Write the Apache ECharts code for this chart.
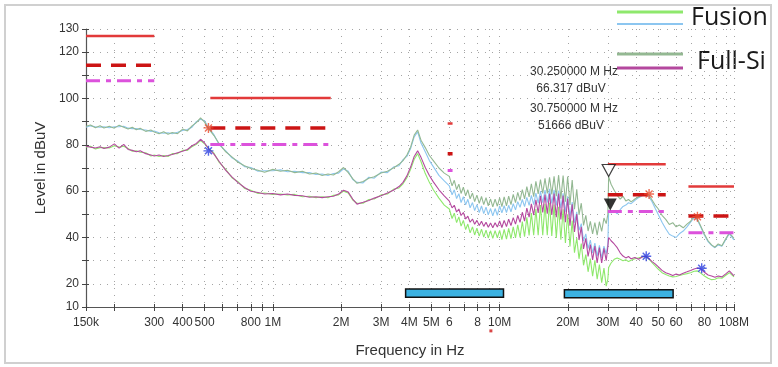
<!DOCTYPE html>
<html>
<head>
<meta charset="utf-8">
<script src="https://cdn.jsdelivr.net/npm/echarts@6/dist/echarts.min.js"></script>
<style>
html,body{margin:0;padding:0;background:#fff;}
#chart{width:778px;height:367px;}
</style>
</head>
<body>
<div id="chart"></div>
<script>
// ---------- DATA ----------
const freqMHz = [
  0.15,0.157,0.165,0.173,0.18,0.19,0.2,0.21,0.22,0.23,0.24,0.25,0.26,0.275,0.29,0.3,0.315,0.33,0.345,0.36,0.38,0.4,0.42,0.44,0.46,0.48,0.5,
  0.52,0.55,0.58,0.62,0.66,0.7,0.75,0.8,0.86,0.92,1.0,1.08,1.16,1.25,1.35,1.45,1.55,1.65,1.75,1.85,1.95,2.05,2.15,2.25,2.35,2.5,2.65,2.8,3.0,3.2,3.4,3.6,3.75,3.9,4.05,4.2,4.35,4.5,4.7,4.9,5.1,5.4,5.7,
  6.0,6.17,6.31,6.46,6.61,6.76,6.92,7.08,7.24,7.41,7.59,7.76,7.94,8.13,8.32,8.51,8.71,8.91,9.12,9.33,9.55,9.77,
  10.0,10.23,10.47,10.72,10.96,11.22,11.48,11.75,12.02,12.3,12.59,12.88,13.18,13.49,13.8,14.13,14.45,14.79,15.14,15.49,15.85,16.22,16.6,16.98,17.38,17.78,18.2,18.62,19.05,19.5,19.95,20.42,20.89,21.38,21.88,22.39,22.91,23.44,23.99,24.55,25.12,25.7,26.3,26.92,27.54,28.18,28.84,29.51,30.0,
  30.25,31,32,33,34,35,36,37,38,39.5,41,42.5,44,45.5,47,48.5,50,52,54,56,58,60,62,64.5,67,69.5,72,74.5,77,80,83,86,89,92,95.5,99,103,108
];
// Full-Si peak (grey-green)
const fullSiPeak = [
  88.0,88.6,87.4,88.2,87.3,88.0,87.2,88.5,87.6,86.8,87.6,86.5,87.2,85.8,86.4,85.5,84.8,85.6,84.6,85.3,84.8,86.8,86.0,88.2,89.6,91.6,89.8,
  87.0,84.0,80.5,77.0,74.8,72.6,71.0,69.8,69.0,68.2,69.4,68.6,69.0,68.0,68.6,67.4,67.8,66.8,67.4,67.0,68.4,70.2,68.0,65.4,63.4,64.2,65.6,66.2,67.8,68.6,70.0,71.6,73.2,75.6,79.0,84.2,86.4,82.0,78.8,75.4,73.2,70.0,67.8,
  66.4,62.3,64.7,60.7,63.0,59.0,61.7,58.0,60.6,56.7,59.2,55.5,58.3,54.7,57.7,54.2,57.2,53.7,56.6,53.2,56.6,53.5,
  57.1,53.3,57.5,53.7,57.9,54.2,58.6,55.1,59.5,56.0,60.7,56.7,62.0,57.5,63.2,57.6,64.2,58.8,65.0,59.0,65.5,59.0,66.0,58.6,66.4,57.8,66.9,56.8,66.7,55.4,66.3,54.1,64.8,52.2,60.8,49.8,54.8,45.2,49.6,42.8,47.0,41.6,46.4,41.0,46.8,42.6,48.4,46.0,50.0,
  66.3,63.0,60.4,58.2,56.6,57.8,55.8,56.4,55.4,56.6,57.6,58.4,59.0,58.4,56.2,54.0,52.4,49.6,47.8,45.6,46.4,44.6,45.4,44.2,45.8,47.0,49.2,48.0,45.0,41.4,38.6,36.8,35.8,37.2,36.4,39.2,42.0,39.6
];
// Fusion peak (light blue)
const fusionPeak = [
  87.6,88.2,87.8,87.6,87.8,87.4,87.8,87.8,88.0,87.2,87.0,87.0,86.6,86.4,85.8,86.0,85.2,85.0,85.2,84.8,85.4,86.2,86.6,87.6,90.0,91.0,90.4,
  87.4,84.4,80.0,77.4,74.4,73.0,70.6,70.2,68.6,68.8,68.8,69.2,68.4,68.6,68.0,68.0,67.2,67.4,66.8,67.6,67.8,69.6,68.6,65.0,63.8,63.6,66.0,65.6,68.2,68.0,70.4,71.0,73.6,75.0,78.4,83.4,85.6,80.8,77.0,73.2,70.6,66.8,64.4,
  62.3,58.4,60.6,56.8,58.9,55.1,57.6,54.1,56.5,52.8,55.1,51.6,54.2,50.8,53.6,50.3,53.1,49.8,52.5,49.3,52.5,49.6,
  53.6,50.6,53.7,50.8,53.9,51.1,54.6,51.9,55.5,53.0,56.4,53.3,57.3,53.9,58.2,54.2,59.2,54.8,60.0,55.0,60.5,55.0,61.0,54.7,60.6,53.8,60.2,52.7,59.1,51.1,57.8,49.1,55.3,46.4,51.1,43.1,46.0,38.5,41.6,35.2,38.9,33.3,37.6,32.0,36.6,31.2,36.3,33.0,37.0,
  51.7,50.6,51.4,50.2,52.0,53.4,54.0,55.0,54.6,56.0,57.2,58.0,58.6,57.6,55.4,52.6,50.0,46.6,43.8,41.4,40.6,40.0,41.6,42.8,44.6,46.6,48.6,47.4,44.6,41.0,38.2,36.6,35.6,36.8,36.2,38.8,41.6,39.0
];
// Full-Si average (purple)
const fullSiAvg = [
  79.4,79.0,78.6,79.2,78.4,79.0,80.4,78.6,80.2,78.0,77.6,77.0,77.4,76.2,75.6,75.2,75.6,75.0,75.4,75.8,76.6,77.2,78.0,79.6,80.6,82.4,80.8,
  78.4,76.0,72.8,69.0,66.2,63.8,61.6,60.0,59.4,58.8,59.0,58.4,58.8,58.2,58.0,57.4,57.6,57.2,57.6,57.8,58.8,60.4,59.6,56.6,54.4,55.2,56.0,57.0,58.0,59.2,60.4,62.0,63.8,66.6,70.4,75.0,77.4,74.6,70.2,66.8,64.0,60.6,58.0,
  55.7,52.8,53.9,51.0,52.3,49.5,50.8,48.0,49.2,46.6,48.0,45.7,47.4,45.2,47.0,44.8,46.6,44.4,46.3,44.2,46.4,44.5,
  47.1,44.3,47.4,44.7,47.9,45.1,48.6,45.8,49.5,46.5,50.9,47.1,52.7,48.8,54.5,49.7,56.3,50.6,58.0,50.8,58.5,50.3,59.0,49.7,59.0,48.8,59.0,47.8,58.1,46.6,56.8,45.1,54.3,42.4,50.1,38.9,44.6,35.1,39.6,31.8,36.9,30.3,36.3,29.0,35.6,29.0,35.3,30.0,36.0,
  40.0,38.6,37.2,35.6,33.4,32.0,31.2,31.8,30.8,31.4,30.6,31.6,32.0,31.0,29.6,28.6,27.4,25.8,24.8,24.2,23.6,24.2,23.8,24.6,25.2,25.8,26.4,26.8,26.6,25.0,23.8,23.4,22.8,23.4,23.0,24.2,25.6,23.4
];
// Fusion average (green)
const fusionAvg = [
  79.0,79.4,78.2,78.8,78.8,78.6,79.6,79.0,79.4,78.4,77.2,77.4,76.8,76.6,75.2,75.6,75.0,75.4,75.0,76.2,76.2,77.6,77.6,79.2,80.2,81.8,80.4,
  78.6,76.4,72.4,69.4,65.8,64.2,61.2,60.4,59.0,59.2,58.6,58.8,58.4,58.6,57.6,57.8,57.2,57.6,57.2,58.2,58.4,60.0,59.2,56.2,54.8,54.8,56.4,56.6,58.4,58.8,60.8,61.4,63.2,65.8,69.4,73.8,76.2,72.8,67.6,63.8,60.6,57.0,54.0,
  52.3,48.2,50.5,46.4,48.9,44.9,47.4,43.4,45.8,42.0,44.6,41.1,44.0,40.6,43.6,40.2,43.2,39.8,42.9,39.6,43.0,39.9,
  43.1,39.1,43.5,39.3,43.9,39.5,44.6,39.8,45.5,40.0,46.9,40.4,48.7,40.9,50.5,41.0,52.3,41.0,54.0,41.0,54.5,41.0,55.0,40.7,54.2,39.8,53.3,39.0,52.2,37.6,50.0,36.1,47.3,33.4,39.8,30.8,37.4,28.0,32.6,25.2,30.9,23.3,30.2,22.0,28.3,20.5,26.8,19.0,22.0,
  27.0,29.0,30.6,31.2,30.6,30.0,30.4,29.6,30.2,30.8,31.2,31.6,31.8,30.8,29.2,27.8,26.4,24.8,24.0,23.4,23.0,23.2,23.6,24.0,24.4,24.8,25.4,25.6,24.6,23.4,22.4,21.8,22.0,22.6,22.4,23.6,24.8,23.0
];

// Limit lines (bands in MHz, levels in dBuV)
const limitBandStartMHz = [0.15, 0.53, 5.9, 30, 68];
const limitBandEndMHz   = [0.3, 1.8, 6.2, 54, 108];
const peakLimitDb = [127.0, 100.2, 89.2, 71.6, 62.0];
const qpLimitDb   = [114.4, 87.3, 76.2, 58.4, 49.3];
const avgLimitDb  = [107.7, 80.1, 68.9, 51.2, 42.1];

// Markers
const peakMarkerMHz = [0.52, 45.6, 74.5];
const peakMarkerDb  = [87.3, 58.8, 49.0];
const avgMarkerMHz  = [0.52, 44.3, 77.8];
const avgMarkerDb   = [77.4, 31.9, 26.7];
const cursorMHz = [30.25, 30.75];
const cursorDb  = [66.317, 51.666];
const strayDotMHz = [9.15];
const strayDotDb  = [-0.3];

// Frequency bands (blue bars)
const barStartMHz = [3.85, 19.3];
const barEndMHz   = [10.4, 58.2];
const barLowDb    = [14.2, 14.0];
const barHighDb   = [17.8, 17.5];

// Axis ticks / labels
const xTickMHz = [0.15,0.2,0.3,0.4,0.5,0.6,0.7,0.8,0.9,1,2,3,4,5,6,7,8,9,10,20,30,40,50,60,70,80,90,100,108];
const xLabelMHz = [0.15,0.3,0.4,0.5,0.8,1,2,3,4,5,6,8,10,20,30,40,50,60,80,108];
const xLabelText = ['150k','300','400','500','800','1M','2M','3M','4M','5M','6','8','10M','20M','30M','40','50','60','80','108M'];
const yTickDb = [10,20,30,40,50,60,70,80,90,100,110,120,130];
const yLabelDb = [10,20,40,60,80,100,120,130];

const annotationLines = ['30.250000 M Hz', '66.317 dBuV', '30.750000 M Hz', '51666 dBuV'];

// ---------- CHART ----------
const FONT = '"Liberation Sans", Arial, sans-serif';
const pairs = arr => freqMHz.map((f, i) => [f, arr[i]]);

const asterisk = 'path://M-5,-0.7L5,-0.7L5,0.7L-5,0.7Z M-0.7,-5L0.7,-5L0.7,5L-0.7,5Z M-4,-3L-3,-4L4,3L3,4Z M3,-4L4,-3L-3,4L-4,3Z';

function curve(name, arr, color) {
  return {
    name, type: 'line', data: pairs(arr), showSymbol: false, symbol: 'none',
    lineStyle: {color, width: 1.1}, silent: true, animation: false, z: 2
  };
}

const series = [
  curve('Fusion peak', fusionPeak, '#8cc6f0'),
  curve('Full-Si peak', fullSiPeak, '#93b892'),
  curve('Fusion avg', fusionAvg, '#8ee86c'),
  curve('Full-Si avg', fullSiAvg, '#b4489e')
];

function limitSeries(levels, color, width, dash) {
  levels.forEach((lv, i) => {
    series.push({
      type: 'line', silent: true, symbol: 'none', showSymbol: false, z: 4,
      data: [[limitBandStartMHz[i], lv], [limitBandEndMHz[i], lv]],
      lineStyle: {color, width, type: dash}
    });
  });
}
limitSeries(peakLimitDb, '#e23a3a', 2.5, 'solid');
limitSeries(qpLimitDb, '#cc1414', 3.5, [15, 10]);
limitSeries(avgLimitDb, '#dc52dc', 3, [14, 6, 5, 6]);

series.push({
  type: 'custom', silent: true, z: 5,
  encode: {x: [0, 1], y: [2, 3]},
  data: barStartMHz.map((s, i) => [s, barEndMHz[i], barLowDb[i], barHighDb[i]]),
  renderItem: (params, api) => {
    const p1 = api.coord([api.value(0), api.value(3)]);
    const p2 = api.coord([api.value(1), api.value(2)]);
    return {type: 'rect', shape: {x: p1[0], y: p1[1], width: p2[0] - p1[0], height: p2[1] - p1[1]},
      style: {fill: '#3cb2e2', stroke: '#111', lineWidth: 1.5}};
  }
});

series.push({
  type: 'scatter', silent: true, z: 6, symbol: asterisk, symbolSize: 10, clip: false,
  data: peakMarkerMHz.map((f, i) => [f, peakMarkerDb[i]]),
  itemStyle: {color: '#ea4a2c'}
});
series.push({
  type: 'scatter', silent: true, z: 6, symbol: asterisk, symbolSize: 10, clip: false,
  data: avgMarkerMHz.map((f, i) => [f, avgMarkerDb[i]]),
  itemStyle: {color: '#2a3ee0'}
});
series.push({
  type: 'scatter', silent: true, z: 7, symbol: 'triangle', symbolRotate: 180,
  symbolSize: [13, 12], symbolOffset: [0, -6], clip: false,
  data: [[cursorMHz[0], cursorDb[0]]],
  itemStyle: {color: '#ffffff', borderColor: '#111', borderWidth: 1.2}
});
series.push({
  type: 'scatter', silent: true, z: 7, symbol: 'triangle', symbolRotate: 180,
  symbolSize: [13, 12], symbolOffset: [0, -6], clip: false,
  data: [[cursorMHz[1], cursorDb[1]]],
  itemStyle: {color: '#000000'}
});
series.push({
  type: 'scatter', silent: true, z: 7, symbol: 'rect', symbolSize: 3, clip: false,
  data: strayDotMHz.map((f, i) => [f, strayDotDb[i]]),
  itemStyle: {color: '#d01818'}
});

function xFmt(v) {
  for (let i = 0; i < xLabelMHz.length; i++) {
    if (Math.abs(v - xLabelMHz[i]) / xLabelMHz[i] < 1e-3) return xLabelText[i];
  }
  return '';
}

const gridLine = {show: true, lineStyle: {color: '#a4a4a4', width: 1, type: [1, 6]}};

const option = {
  animation: false,
  backgroundColor: '#ffffff',
  grid: {left: 86, right: 44, top: 29, bottom: 60, containLabel: false},
  xAxis: [{
    type: 'log', logBase: 10, min: 0.15, max: 108,
    name: 'Frequency in Hz', nameLocation: 'middle', nameGap: 36,
    nameTextStyle: {fontSize: 15, color: '#333', fontFamily: FONT},
    axisLine: {show: true, lineStyle: {color: '#555', width: 1.2}},
    axisTick: {show: true, customValues: xTickMHz, length: 4, lineStyle: {color: '#444'}},
    axisLabel: {customValues: xLabelMHz, formatter: xFmt, fontSize: 12, color: '#333', margin: 10, fontFamily: FONT},
    splitLine: gridLine,
    minorTick: {show: false}, minorSplitLine: {show: false}
  }, {
    type: 'log', logBase: 10, min: 0.15, max: 108, position: 'bottom', offset: 0,
    axisLine: {show: false},
    axisTick: {show: true, inside: true, customValues: xTickMHz, length: 3, lineStyle: {color: '#444'}},
    axisLabel: {show: false}, splitLine: {show: false}
  }],
  yAxis: [{
    type: 'value', min: 10, max: 130, interval: 10,
    name: 'Level in dBuV', nameLocation: 'middle', nameGap: 35, nameRotate: 90,
    nameTextStyle: {fontSize: 15, color: '#333', fontFamily: FONT},
    axisLine: {show: true, lineStyle: {color: '#555', width: 1.2}},
    axisTick: {show: true, customValues: yTickDb, length: 4, lineStyle: {color: '#444'}},
    axisLabel: {customValues: yLabelDb, formatter: v => (yLabelDb.indexOf(v) >= 0 ? String(v) : ''),
      fontSize: 12, color: '#333', margin: 7, fontFamily: FONT},
    splitLine: gridLine
  }, {
    type: 'value', min: 10, max: 130, interval: 10, position: 'left', offset: 0,
    axisLine: {show: false},
    axisTick: {show: true, inside: true, customValues: yTickDb, length: 3, lineStyle: {color: '#444'}},
    axisLabel: {show: false}, splitLine: {show: false}
  }],
  series,
  graphic: [
    {type: 'rect', silent: true, z: 0, shape: {x: 5, y: 5, width: 766, height: 358},
      style: {fill: 'none', stroke: '#d0d0d0', lineWidth: 2}},
    {type: 'line', silent: true, shape: {x1: 617, y1: 12, x2: 683, y2: 12}, style: {stroke: '#8ee86c', lineWidth: 3}},
    {type: 'line', silent: true, shape: {x1: 617, y1: 24, x2: 683, y2: 24}, style: {stroke: '#8cc6f0', lineWidth: 2}},
    {type: 'line', silent: true, shape: {x1: 617, y1: 54, x2: 683, y2: 54}, style: {stroke: '#93b892', lineWidth: 3}},
    {type: 'line', silent: true, shape: {x1: 617, y1: 68, x2: 683, y2: 68}, style: {stroke: '#b4489e', lineWidth: 3}},
    {type: 'text', silent: true, style: {text: 'Fusion', x: 691, y: 18, font: '25px "Open Sans", sans-serif', fill: '#1a1a1a',
      align: 'left', verticalAlign: 'middle', textAlign: 'left', textVerticalAlign: 'middle'}},
    {type: 'text', silent: true, style: {text: 'Full-Si', x: 697, y: 62, font: '25px "Open Sans", sans-serif', fill: '#1a1a1a',
      align: 'left', verticalAlign: 'middle', textAlign: 'left', textVerticalAlign: 'middle'}},
    {type: 'text', silent: true, style: {text: annotationLines[0], x: 574, y: 72, font: '12px ' + FONT, fill: '#333',
      align: 'center', verticalAlign: 'middle', textAlign: 'center', textVerticalAlign: 'middle'}},
    {type: 'text', silent: true, style: {text: annotationLines[1], x: 571, y: 89, font: '12px ' + FONT, fill: '#333',
      align: 'center', verticalAlign: 'middle', textAlign: 'center', textVerticalAlign: 'middle'}},
    {type: 'text', silent: true, style: {text: annotationLines[2], x: 574, y: 109, font: '12px ' + FONT, fill: '#333',
      align: 'center', verticalAlign: 'middle', textAlign: 'center', textVerticalAlign: 'middle'}},
    {type: 'text', silent: true, style: {text: annotationLines[3], x: 571, y: 126, font: '12px ' + FONT, fill: '#333',
      align: 'center', verticalAlign: 'middle', textAlign: 'center', textVerticalAlign: 'middle'}}
  ]
};

const chart = echarts.init(document.getElementById('chart'), null, {renderer: 'canvas'});
chart.setOption(option);
</script>
</body>
</html>
